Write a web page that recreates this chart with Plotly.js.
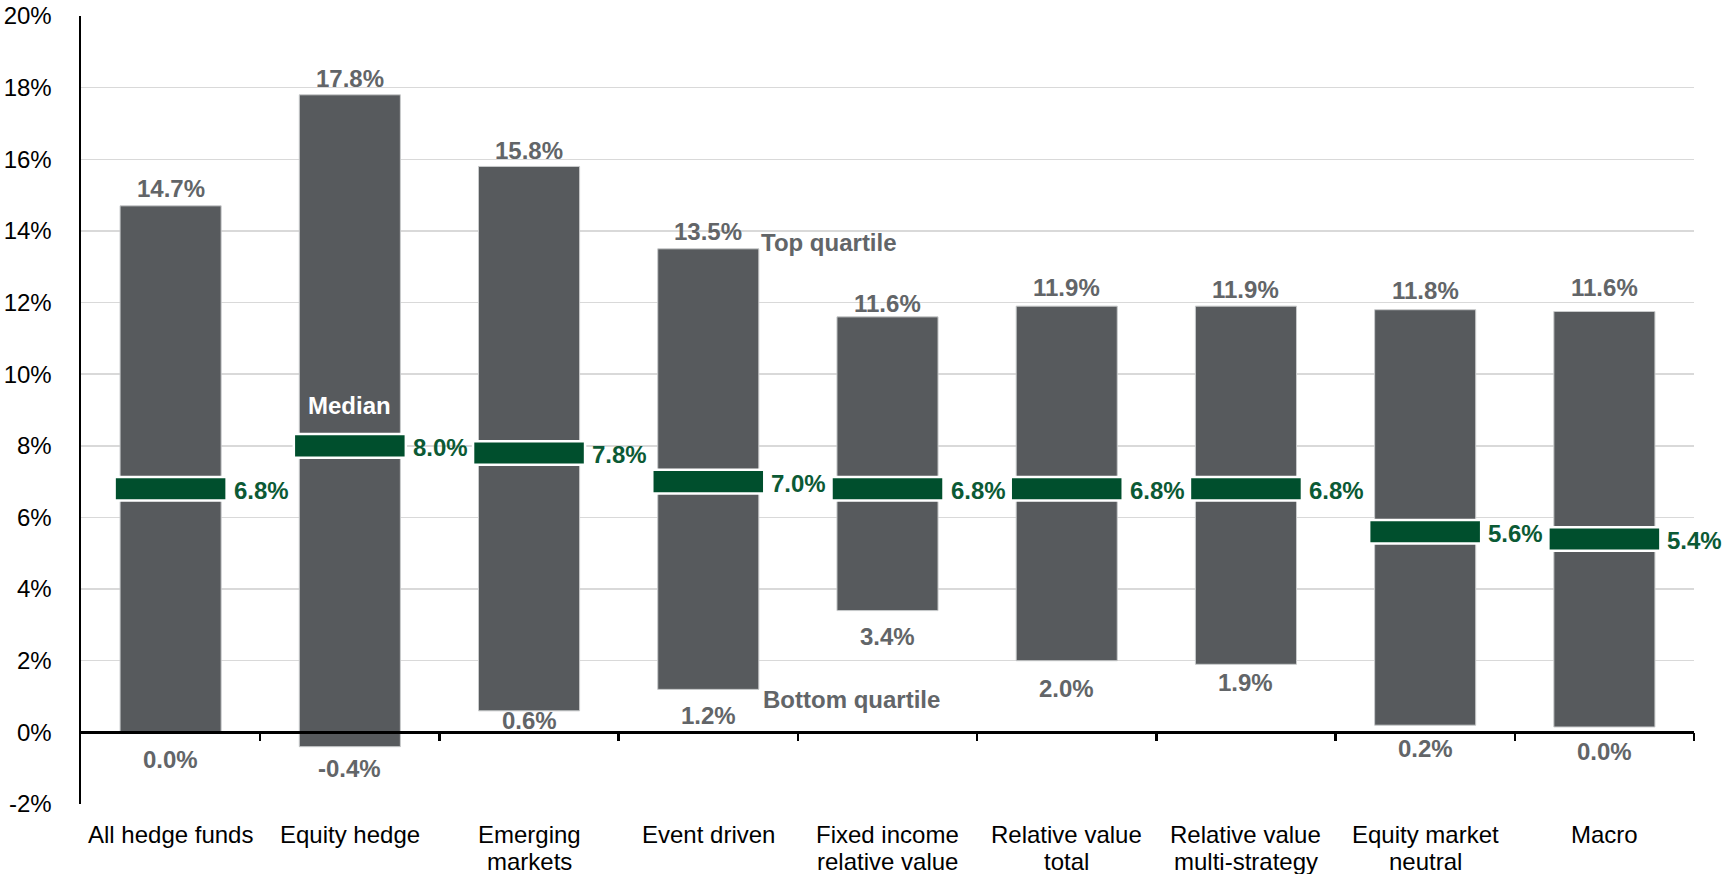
<!DOCTYPE html>
<html>
<head>
<meta charset="utf-8">
<script src="https://cdn.plot.ly/plotly-3.0.1.min.js"></script>
<style>
  html, body { margin: 0; padding: 0; background: #ffffff; }
  #chart { width: 1727px; height: 874px; }
</style>
</head>
<body>
<div id="chart"></div>
<script>
// ---- Data ----
const categories = [
  'All hedge funds', 'Equity hedge', 'Emerging<br>markets', 'Event driven',
  'Fixed income<br>relative value', 'Relative value<br>total',
  'Relative value<br>multi-strategy', 'Equity market<br>neutral', 'Macro'
];
const topQuartile    = [14.7, 17.8, 15.8, 13.5, 11.6, 11.9, 11.9, 11.8, 11.75];
const bottomQuartile = [0.0, -0.4, 0.6, 1.2, 3.4, 2.0, 1.9, 0.2, 0.15];
const median         = [6.8, 8.0, 7.8, 7.0, 6.8, 6.8, 6.8, 5.6, 5.4];
const topLabels    = ['14.7%', '17.8%', '15.8%', '13.5%', '11.6%', '11.9%', '11.9%', '11.8%', '11.6%'];
const bottomLabels = ['0.0%', '-0.4%', '0.6%', '1.2%', '3.4%', '2.0%', '1.9%', '0.2%', '0.0%'];
const medianLabels = ['6.8%', '8.0%', '7.8%', '7.0%', '6.8%', '6.8%', '6.8%', '5.6%', '5.4%'];
const yTicks = [-2, 0, 2, 4, 6, 8, 10, 12, 14, 16, 18, 20];

// ---- Styling ----
const FONT = 'Liberation Sans, Arial, Helvetica, sans-serif';
const BAR_GRAY = '#575a5d';
const LABEL_GRAY = '#626568';
const GREEN = '#004f2d';
const GREEN_TEXT = '#0b5a35';
const MEDIAN_H = 0.66;   // thickness of the median marker (in % units)
// per-label pixel nudges (label placement only)
const topShift    = [17, 16, 16, 17, 13, 19, 17, 19, 24];
const bottomShift = [27, 22, 10, 26, 26, 28, 18, 23, 25];
const CAT_FIRST_LINE = 15;   // px below plot bottom (annotation box top)
const CAT_LINE_STEP = 27;    // px between category label lines

const idx = categories.map((c, i) => i);

const rangeTrace = {
  type: 'bar',
  x: idx,
  base: bottomQuartile,
  y: topQuartile.map((t, i) => t - bottomQuartile[i]),
  width: 0.564,
  marker: { color: BAR_GRAY, line: { color: '#c9cbcc', width: 1 } },
  hoverinfo: 'skip',
  showlegend: false
};

const medianTrace = {
  type: 'bar',
  x: idx,
  base: median.map(m => m - MEDIAN_H / 2),
  y: median.map(() => MEDIAN_H),
  width: 0.625,
  marker: { color: GREEN, line: { color: '#ffffff', width: 2.5 } },
  hoverinfo: 'skip',
  showlegend: false
};

const annotations = [];
idx.forEach(i => {
  annotations.push({
    x: i, y: topQuartile[i], xref: 'x', yref: 'y',
    text: topLabels[i], showarrow: false,
    xanchor: 'center', yanchor: 'middle', yshift: topShift[i],
    font: { family: FONT, size: 24, color: LABEL_GRAY, weight: 'bold' }
  });
  annotations.push({
    x: i, y: bottomQuartile[i], xref: 'x', yref: 'y',
    text: bottomLabels[i], showarrow: false,
    xanchor: 'center', yanchor: 'middle', yshift: -bottomShift[i],
    font: { family: FONT, size: 24, color: LABEL_GRAY, weight: 'bold' }
  });
  annotations.push({
    x: i, y: median[i], xref: 'x', yref: 'y',
    text: medianLabels[i], showarrow: false,
    xanchor: 'left', yanchor: 'middle', xshift: 61, yshift: -2,
    font: { family: FONT, size: 24, color: GREEN_TEXT, weight: 'bold' }
  });
  // category labels (one annotation per line for tighter line spacing)
  categories[i].split('<br>').forEach((line, k) => {
    annotations.push({
      x: i, y: 0, xref: 'x', yref: 'paper',
      text: line, showarrow: false,
      xanchor: 'center', yanchor: 'top',
      yshift: -(CAT_FIRST_LINE + k * CAT_LINE_STEP),
      font: { family: FONT, size: 24, color: '#000000' }
    });
  });
});
// explanatory labels
annotations.push({
  x: 1, y: median[1], xref: 'x', yref: 'y', text: 'Median', showarrow: false,
  xanchor: 'center', yanchor: 'middle', yshift: 40,
  font: { family: FONT, size: 24, color: '#ffffff', weight: 'bold' }
});
annotations.push({
  x: 3, y: topQuartile[3], xref: 'x', yref: 'y', text: 'Top quartile', showarrow: false,
  xanchor: 'left', yanchor: 'middle', xshift: 51, yshift: 6,
  font: { family: FONT, size: 24, color: LABEL_GRAY, weight: 'bold' }
});
annotations.push({
  x: 3, y: bottomQuartile[3], xref: 'x', yref: 'y', text: 'Bottom quartile', showarrow: false,
  xanchor: 'left', yanchor: 'middle', xshift: 53, yshift: -10,
  font: { family: FONT, size: 24, color: LABEL_GRAY, weight: 'bold' }
});

const yMin = -2, yMax = 20;

const layout = {
  width: 1727, height: 874,
  margin: { l: 81, r: 33, t: 16, b: 70, pad: 0 },
  paper_bgcolor: '#ffffff', plot_bgcolor: '#ffffff',
  barmode: 'overlay',
  font: { family: FONT, size: 24, color: '#000000' },
  showlegend: false,
  xaxis: {
    type: 'linear',
    range: [-0.5, categories.length - 0.5],
    tickmode: 'array',
    tickvals: idx,
    ticktext: categories,
    showticklabels: false,
    anchor: 'free',
    position: (0 - yMin) / (yMax - yMin),
    showline: true, linecolor: '#000000', linewidth: 2.5,
    showgrid: false, zeroline: false,
    ticks: '',
    fixedrange: true
  },
  xaxis2: {
    type: 'linear',
    overlaying: 'x',
    range: [-0.5, categories.length - 0.5],
    tickmode: 'array',
    tickvals: idx.map(i => i + 0.5),
    showticklabels: false,
    anchor: 'free',
    position: (0 - yMin) / (yMax - yMin),
    showline: false, showgrid: false, zeroline: false,
    ticks: 'outside', ticklen: 8, tickwidth: 2.5, tickcolor: '#000000',
    fixedrange: true
  },
  yaxis: {
    range: [yMin, yMax],
    tickmode: 'array',
    tickvals: yTicks,
    ticktext: yTicks.map(v => v + '%'),
    showline: true, linecolor: '#000000', linewidth: 2.5,
    showgrid: true, gridcolor: '#d9d9d9', gridwidth: 1.5,
    zeroline: false,
    ticks: '', ticklabelstandoff: 22,
    tickfont: { family: FONT, size: 24, color: '#000000' },
    fixedrange: true
  },
  annotations: annotations
};

// empty trace so the boundary-tick axis (x2) is drawn
const tickHolder = {
  type: 'scatter', mode: 'none', x: [], y: [], xaxis: 'x2', yaxis: 'y',
  hoverinfo: 'skip', showlegend: false
};

Plotly.newPlot('chart', [rangeTrace, medianTrace, tickHolder], layout,
  { displayModeBar: false, staticPlot: true });
</script>
</body>
</html>
